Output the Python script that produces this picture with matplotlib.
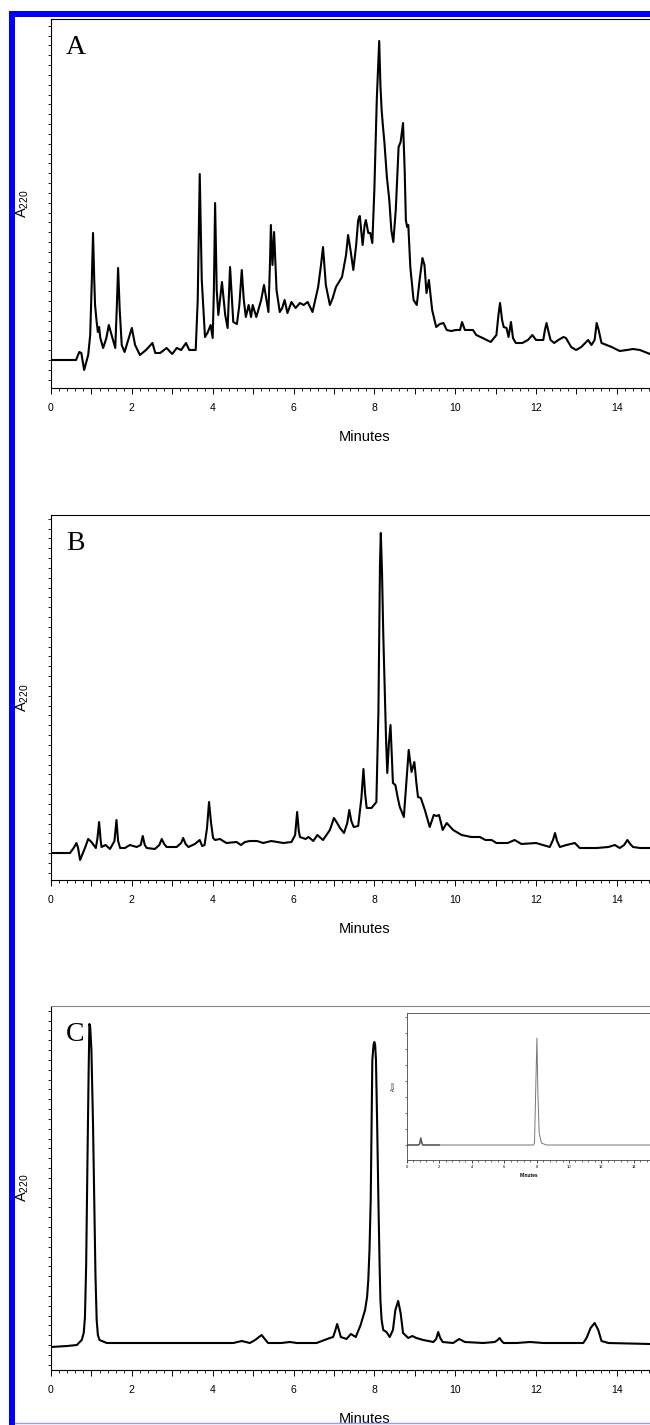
import matplotlib
matplotlib.use("Agg")
import matplotlib.pyplot as plt
from matplotlib.ticker import MultipleLocator, FuncFormatter
from matplotlib.patches import Rectangle
from matplotlib.lines import Line2D

plt.rcParams['font.family'] = ['Liberation Sans', 'DejaVu Sans']

# ---- chromatogram traces (minutes, A220 in arbitrary units) ----
a_time = [0, 0.62, 0.66, 0.70, 0.75, 0.82, 0.92, 0.97, 1.01, 1.04, 1.07, 1.09, 1.13, 1.16, 1.19, 1.22,
          1.29, 1.37, 1.43, 1.50, 1.59, 1.63, 1.66, 1.70, 1.75, 1.82, 1.91, 2.00, 2.08, 2.20, 2.35, 2.51,
          2.58, 2.70, 2.86, 3.00, 3.11, 3.22, 3.34, 3.42, 3.58, 3.63, 3.68, 3.73, 3.81, 3.87, 3.95, 4.00,
          4.03, 4.06, 4.10, 4.14, 4.23, 4.31, 4.37, 4.43, 4.51, 4.60, 4.66, 4.72, 4.77, 4.82, 4.89, 4.95,
          4.99, 5.08, 5.20, 5.27, 5.35, 5.38, 5.42, 5.44, 5.48, 5.52, 5.58, 5.66, 5.72, 5.78, 5.85, 5.95,
          6.05, 6.16, 6.25, 6.35, 6.47, 6.61, 6.68, 6.73, 6.80, 6.90, 6.97, 7.05, 7.20, 7.30, 7.35, 7.41,
          7.48, 7.55, 7.60, 7.64, 7.71, 7.76, 7.79, 7.85, 7.90, 7.95, 8.00, 8.06, 8.12, 8.15, 8.18, 8.21,
          8.25, 8.31, 8.37, 8.42, 8.47, 8.53, 8.60, 8.65, 8.71, 8.75, 8.78, 8.81, 8.84, 8.89, 8.97, 9.05,
          9.12, 9.19, 9.24, 9.29, 9.35, 9.43, 9.53, 9.62, 9.71, 9.79, 9.90, 10.02, 10.12, 10.17, 10.24,
          10.34, 10.44, 10.52, 10.68, 10.88, 11.02, 11.07, 11.11, 11.16, 11.20, 11.27, 11.32, 11.38, 11.43,
          11.50, 11.66, 11.80, 11.91, 12.00, 12.18, 12.22, 12.26, 12.31, 12.36, 12.45, 12.55, 12.68, 12.74,
          12.87, 12.99, 13.12, 13.29, 13.37, 13.45, 13.50, 13.55, 13.62, 13.87, 14.07, 14.25, 14.40, 14.57,
          14.82]
a_signal = [0, 0, 4, 8, 7, -10, 5, 25, 80, 127, 80, 55, 38, 28, 33, 22,
            12, 22, 35, 25, 12, 55, 92, 50, 15, 8, 20, 32, 15, 5, 10, 17,
            7, 7, 12, 6, 12, 10, 17, 10, 10, 60, 186, 80, 23, 27, 35, 22,
            70, 157, 70, 45, 78, 45, 32, 93, 38, 36, 55, 90, 60, 43, 55, 43,
            55, 43, 60, 75, 55, 48, 100, 135, 95, 128, 70, 48, 52, 60, 47, 58,
            52, 57, 55, 58, 48, 73, 95, 113, 75, 55, 62, 73, 83, 105, 125, 110,
            90, 115, 140, 144, 115, 135, 140, 127, 127, 117, 170, 260, 319, 275, 250, 235,
            217, 183, 160, 130, 118, 150, 213, 218, 237, 190, 140, 133, 135, 93, 60, 55,
            80, 102, 95, 67, 80, 50, 33, 36, 37, 30, 29, 30, 30, 38, 30,
            30, 30, 25, 22, 18, 25, 45, 57, 40, 33, 32, 23, 38, 22,
            17, 17, 20, 25, 20, 20, 30, 37, 28, 20, 17, 20, 23, 22,
            13, 10, 13, 20, 15, 20, 37, 30, 17, 13, 9, 10, 11, 10,
            6]

b_time = [0, 0.47, 0.56, 0.63, 0.67, 0.72, 0.84, 0.92, 1.00, 1.11, 1.15, 1.19, 1.23, 1.25, 1.35, 1.46,
          1.57, 1.62, 1.66, 1.71, 1.83, 1.95, 2.12, 2.22, 2.27, 2.32, 2.37, 2.57, 2.68, 2.74, 2.80, 2.86,
          3.11, 3.22, 3.27, 3.33, 3.40, 3.56, 3.68, 3.74, 3.80, 3.86, 3.91, 3.96, 4.01, 4.06, 4.18, 4.34,
          4.59, 4.70, 4.80, 4.92, 5.10, 5.25, 5.45, 5.75, 5.95, 6.04, 6.09, 6.13, 6.16, 6.30, 6.37, 6.49,
          6.59, 6.73, 6.90, 7.00, 7.08, 7.15, 7.25, 7.33, 7.38, 7.43, 7.49, 7.60, 7.68, 7.73, 7.77, 7.81,
          7.93, 8.05, 8.10, 8.14, 8.16, 8.19, 8.22, 8.26, 8.29, 8.32, 8.36, 8.40, 8.43, 8.46, 8.52, 8.58,
          8.63, 8.73, 8.79, 8.85, 8.89, 8.92, 8.99, 9.04, 9.08, 9.15, 9.25, 9.37, 9.43, 9.47, 9.54, 9.60,
          9.65, 9.69, 9.79, 9.95, 10.16, 10.40, 10.61, 10.75, 10.90, 11.02, 11.30, 11.47, 11.64, 12.00,
          12.34, 12.42, 12.47, 12.52, 12.59, 12.75, 12.96, 13.08, 13.50, 13.79, 13.95, 14.07, 14.18, 14.26,
          14.33, 14.40, 14.57, 14.82]
b_signal = [0, 0, 5, 10, 5, -7, 5, 14, 11, 5, 15, 31, 12, 6, 8, 4,
            12, 33, 12, 5, 5, 8, 6, 8, 17, 8, 5, 4, 8, 14, 9, 6,
            6, 10, 15, 9, 6, 9, 13, 7, 8, 25, 51, 30, 15, 13, 14, 10,
            11, 8, 11, 12, 12, 10, 12, 10, 11, 18, 41, 22, 16, 14, 16, 12,
            18, 13, 23, 35, 30, 25, 20, 30, 43, 32, 26, 27, 55, 84, 60, 45,
            45, 51, 140, 290, 320, 280, 220, 160, 113, 80, 110, 128, 100, 70, 68, 55,
            46, 36, 70, 103, 90, 81, 91, 70, 56, 55, 43, 26, 33, 38, 37, 38,
            30, 23, 30, 23, 18, 16, 16, 13, 13, 10, 10, 13, 9, 10,
            6, 13, 20, 12, 6, 8, 10, 5, 5, 6, 8, 5, 8, 13,
            9, 6, 5, 5]

c_time = [0, 0.40, 0.64, 0.76, 0.81, 0.84, 0.87, 0.90, 0.93, 0.95, 0.97, 1.00, 1.04, 1.07, 1.10, 1.13,
          1.16, 1.20, 1.38, 2.50, 3.50, 4.51, 4.72,
          4.92, 5.05, 5.21, 5.37, 5.70, 5.91, 6.08, 6.57, 6.90, 6.98, 7.03, 7.08, 7.13, 7.17, 7.31, 7.42,
          7.54, 7.66, 7.77, 7.82, 7.85, 7.88, 7.91, 7.95, 7.98, 8.00, 8.02, 8.04, 8.07, 8.10, 8.13, 8.15,
          8.18, 8.22, 8.30, 8.38, 8.46, 8.52, 8.59,
          8.65, 8.71, 8.84, 8.94, 9.04, 9.21, 9.46, 9.53, 9.58, 9.63, 9.69, 9.95, 10.10, 10.24, 10.69,
          10.98, 11.05, 11.10, 11.15, 11.20, 11.52, 11.85, 12.18, 13.17, 13.25, 13.35, 13.45, 13.54, 13.62,
          13.79, 14.82]
c_signal = [-2, -1, 0, 5, 12, 28, 80, 178, 270, 321, 318, 295, 220, 145, 70, 25,
            10, 5, 2, 2, 2, 2, 4,
            2, 5, 10, 2, 2, 3, 2, 2, 7, 8, 14, 21, 14, 8, 6, 11,
            8, 20, 35, 48, 65, 95, 145, 285, 300, 303, 300, 285, 220, 145, 80, 45,
            25, 15, 13, 8, 15, 35, 44,
            32, 12, 7, 9, 7, 5, 3, 6, 13, 7, 3, 2, 6, 3, 2,
            3, 5, 7, 4, 2, 2, 3, 2, 2, 7, 17, 22, 15, 4,
            2, 1]

# inset of panel C
inset_time = [0, 0.70, 0.78, 0.85, 0.92, 0.97, 7.80, 7.87, 7.93, 8.02, 8.08, 8.16, 8.30, 8.60, 15.0]
inset_signal = [0, 0, 1, 7, 2, 0, 0, 2, 45, 107, 52, 12, 2, 0, 0]
inset_dark_time = [0, 0.70, 0.78, 0.85, 0.92, 0.97, 2.0]
inset_dark_signal = [0, 0, 1, 7, 2, 0, 0]

panel_letters = ['A', 'B', 'C']

W, H = 650, 1425
fig = plt.figure(figsize=(W / 100, H / 100), dpi=100)


def px_axes(left, top, right, bottom):
    return fig.add_axes([left / W, 1 - bottom / H, (right - left) / W, (bottom - top) / H])


def even_label(v, pos):
    return '%d' % v if int(round(v)) % 2 == 0 else ''


def style_main(ax, letter, top_color='black'):
    ax.set_xlim(0, 14.82)
    ax.xaxis.set_major_locator(MultipleLocator(1))
    ax.xaxis.set_minor_locator(MultipleLocator(0.2))
    ax.xaxis.set_major_formatter(FuncFormatter(even_label))
    ax.yaxis.set_major_locator(MultipleLocator(9.83))
    ax.yaxis.set_major_formatter(FuncFormatter(lambda v, p: ''))
    ax.tick_params(axis='x', which='major', direction='out', length=4, width=0.7, pad=7, labelsize=7.5)
    ax.tick_params(axis='x', which='minor', direction='out', length=2.5, width=0.6)
    ax.tick_params(axis='y', which='major', direction='out', length=2.5, width=0.6, left=True)
    ax.spines['right'].set_visible(False)
    ax.spines['top'].set_color(top_color)
    for s in ax.spines.values():
        s.set_linewidth(0.8)
    ax.set_xlabel('Minutes', fontsize=10.5)
    ax.xaxis.set_label_coords(0.524, -0.115)
    ax.set_ylabel('A$_{\\mathregular{220}}$', fontsize=10.5)
    ax.yaxis.set_label_coords(-0.033, 0.5)
    ax.text(0.025, 0.905, letter, transform=ax.transAxes, fontsize=20,
            family='Liberation Serif', ha='left', va='baseline')


def trace(ax, t, v):
    ax.plot(t, v, color='black', lw=1.5, solid_joinstyle='round')


# panel A: value 0 at pixel 360
axA = px_axes(51, 19, 650, 388)
trace(axA, a_time, a_signal)
axA.set_ylim(-28, 341)
style_main(axA, panel_letters[0])

# panel B: value 0 at pixel 853
axB = px_axes(51, 515, 650, 880)
trace(axB, b_time, b_signal)
axB.set_ylim(-27, 338)
style_main(axB, panel_letters[1])

# panel C: value 0 at pixel 1345
axC = px_axes(51, 1006, 650, 1370)
trace(axC, c_time, c_signal)
axC.set_ylim(-25, 339)
style_main(axC, panel_letters[2], top_color='#888888')

# inset in C: value 0 at pixel 1145
axI = px_axes(407, 1013, 650, 1160)
axI.plot(inset_time, inset_signal, color='#777777', lw=0.7)
axI.plot(inset_dark_time, inset_dark_signal, color='#555555', lw=1.0)
axI.set_ylim(-15, 132)
axI.set_xlim(0, 15.0)
axI.xaxis.set_major_locator(MultipleLocator(2))
axI.xaxis.set_minor_locator(MultipleLocator(0.4))
axI.yaxis.set_major_locator(MultipleLocator(16))
axI.yaxis.set_major_formatter(FuncFormatter(lambda v, p: ''))
axI.tick_params(axis='x', which='major', direction='out', length=2, width=0.5, pad=1.5, labelsize=3)
axI.tick_params(axis='x', which='minor', direction='out', length=1.2, width=0.4)
axI.tick_params(axis='y', direction='out', length=1.2, width=0.4)
axI.spines['right'].set_visible(False)
for s in axI.spines.values():
    s.set_linewidth(0.6)
    s.set_color('#444444')
axI.set_xlabel('Minutes', fontsize=3.5, labelpad=3, fontweight='bold')
axI.set_ylabel('A$_{\\mathregular{220}}$', fontsize=3.5, labelpad=1.5)

# blue page frame
fig.add_artist(Rectangle((9 / W, 0), 6 / W, 1 - 11 / H, transform=fig.transFigure,
                         color='#0000ff', lw=0))
fig.add_artist(Rectangle((9 / W, 1 - 17 / H), 1 - 9 / W, 6 / H, transform=fig.transFigure,
                         color='#0000ff', lw=0))
fig.add_artist(Line2D([15 / W, 1], [1 - 1422.5 / H, 1 - 1422.5 / H], transform=fig.transFigure,
                      color='#9999ff', lw=1))

fig.savefig('out.png', dpi=100)
